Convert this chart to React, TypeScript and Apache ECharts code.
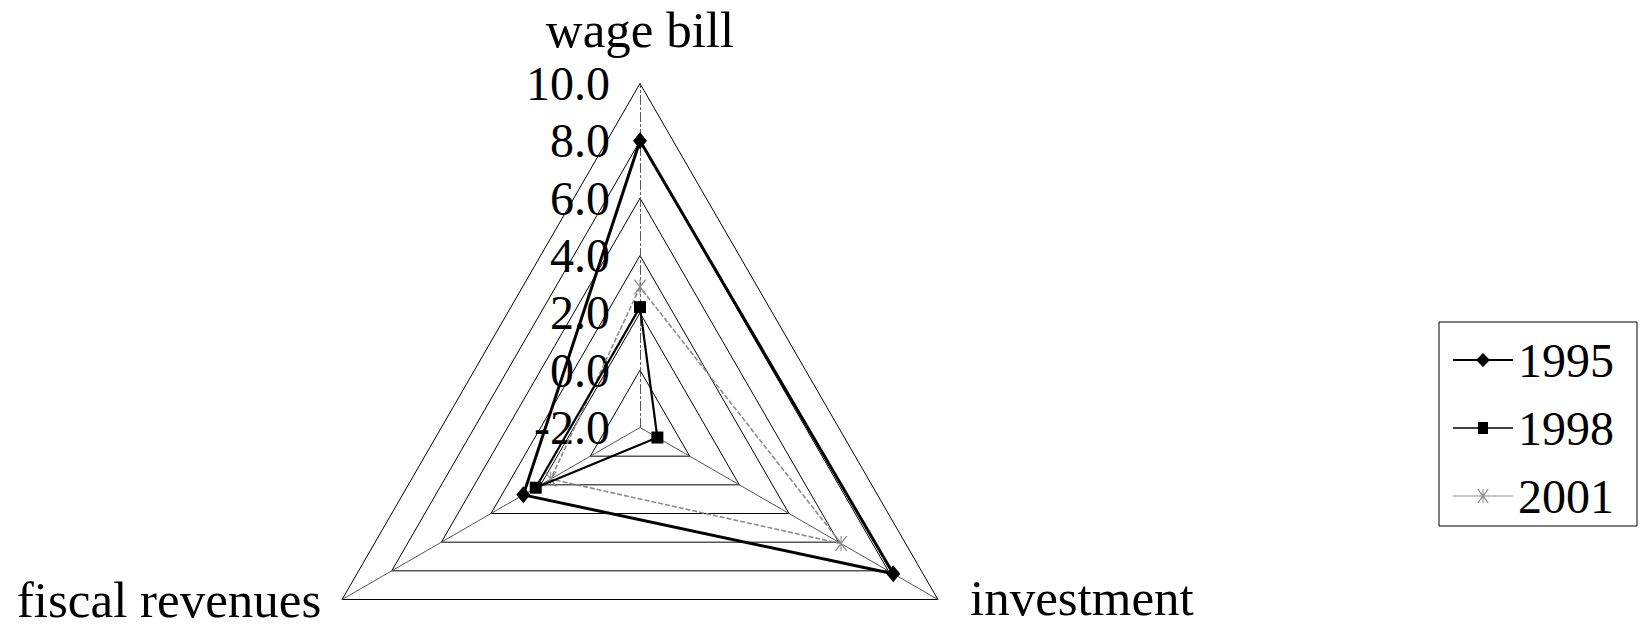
import React, { useEffect, useRef } from "react";
import * as echarts from "echarts";

// Categories (in reading order, clockwise from top as in the original)
const categories: string[] = ["wage bill", "investment", "fiscal revenues"];
const years: string[] = ["1995", "1998", "2001"];

// Values per year, in the order of `categories`
const values1995: number[] = [8.0, 8.2, 2.7];
const values1998: number[] = [2.2, -1.3, 2.2];
const values2001: number[] = [2.9, 6.1, 1.6];

// Radial axis
const axisMin = -2;
const axisMax = 10;
const axisSplits = 6;

const FONT = "'Liberation Serif', 'Times New Roman', serif";

// ECharts lays indicators counter-clockwise; reorder to get wage bill (top),
// fiscal revenues (bottom-left), investment (bottom-right)
const displayOrder = [0, 2, 1];
const reorder = (arr: number[]) => displayOrder.map((i) => arr[i]);

const ICON_1995 =
  "path://M0,6L24,6L30,0L36,6L60,6L60,8L36,8L30,14L24,8L0,8Z";
const ICON_1998 =
  "path://M0,6.2L25,6.2L25,1L35,1L35,6.2L60,6.2L60,7.8L35,7.8L35,13L25,13L25,7.8L0,7.8Z";
const ICON_2001 =
  "path://M0,6.5L60,6.5L60,7.5L0,7.5Z M24,0L25.5,0L36,14L34.5,14Z M34.5,0L36,0L25.5,14L24,14Z M29.5,0L30.5,0L30.5,14L29.5,14Z";
const STAR =
  "path://M0,0L1.5,0L12,14L10.5,14Z M10.5,0L12,0L1.5,14L0,14Z M5.5,0L6.5,0L6.5,14L5.5,14Z";

export default function App() {
  const ref = useRef<HTMLDivElement>(null);

  useEffect(() => {
    if (!ref.current) return;
    const chart = echarts.init(ref.current, null, { renderer: "svg" });

    const indicatorCfg: Record<string, any> = {
      "wage bill": {
        nameGap: 28,
        axisLine: { lineStyle: { type: [9, 3, 2, 3] } },
      },
      investment: {
        nameGap: 37,
        axisLabel: { show: false },
        nameTextStyle: { verticalAlign: "bottom", lineHeight: 41 },
      },
      "fiscal revenues": {
        nameGap: 24,
        axisLabel: { show: false },
        nameTextStyle: { verticalAlign: "bottom", lineHeight: 24 },
      },
    };

    const indicator = displayOrder.map((i) => ({
      name: categories[i],
      min: axisMin,
      max: axisMax,
      ...indicatorCfg[categories[i]],
    }));

    const option: any = {
      animation: false,
      color: ["#000000", "#000000", "#8c8c8c"],
      legend: {
        orient: "vertical",
        left: 1439,
        top: 322,
        itemGap: 20,
        itemWidth: 60,
        itemHeight: 15,
        padding: [14, 23, 6, 14],
        borderColor: "#000",
        borderWidth: 1,
        backgroundColor: "#fff",
        textStyle: { fontSize: 48, fontFamily: FONT, color: "#000" },
        selectedMode: false,
        data: [
          { name: years[0], icon: ICON_1995 },
          { name: years[1], icon: ICON_1998 },
          { name: years[2], icon: ICON_2001 },
        ],
      },
      radar: {
        center: [640, 427.5],
        radius: 344,
        startAngle: 90,
        shape: "polygon",
        splitNumber: axisSplits,
        indicator,
        axisName: {
          color: "#000",
          fontSize: 51,
          fontFamily: FONT,
        },
        splitLine: { lineStyle: { color: "#000", width: 1 } },
        splitArea: { show: false },
        axisLine: { lineStyle: { color: "#555", width: 1 } },
        axisTick: { show: false },
        axisLabel: {
          show: true,
          fontSize: 48,
          fontFamily: FONT,
          color: "#000",
          margin: 30,
          formatter: (v: number) => v.toFixed(1),
        },
      },
      series: [
        {
          type: "radar",
          name: years[0],
          symbol: "diamond",
          symbolSize: [14, 17],
          itemStyle: { color: "#000" },
          lineStyle: { color: "#000", width: 3 },
          emphasis: { disabled: true },
          data: [{ name: years[0], value: reorder(values1995) }],
          z: 4,
        },
        {
          type: "radar",
          name: years[1],
          symbol: "rect",
          symbolSize: 12,
          itemStyle: { color: "#000" },
          lineStyle: { color: "#000", width: 2.2 },
          emphasis: { disabled: true },
          data: [{ name: years[1], value: reorder(values1998) }],
          z: 3,
        },
        {
          type: "radar",
          name: years[2],
          symbol: STAR,
          symbolSize: [13, 15],
          itemStyle: { color: "#8c8c8c" },
          lineStyle: { color: "#8c8c8c", width: 1.6, type: [5, 2] },
          emphasis: { disabled: true },
          data: [{ name: years[2], value: reorder(values2001) }],
          z: 2,
        },
      ],
    };

    chart.setOption(option);
    return () => chart.dispose();
  }, []);

  return (
    <div
      ref={ref}
      style={{
        position: "fixed",
        left: 0,
        top: 0,
        width: 1642,
        height: 631,
        background: "#fff",
      }}
    />
  );
}
